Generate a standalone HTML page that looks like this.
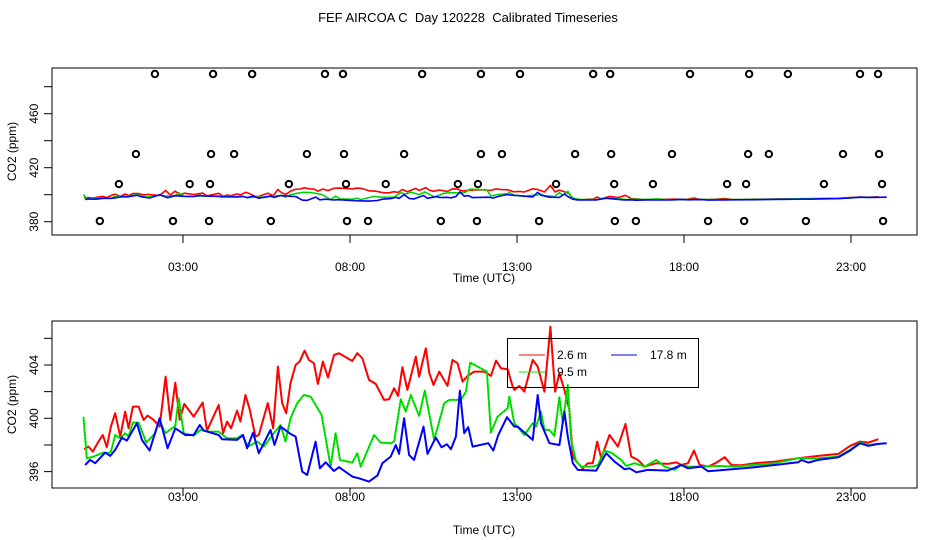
<!DOCTYPE html>
<html><head><meta charset="utf-8"><style>
html,body{margin:0;padding:0;background:#fff;}
svg{display:block;font-family:"Liberation Sans",sans-serif;}
</style></head><body>
<svg id="chart" width="936" height="540" viewBox="0 0 936 540" xmlns="http://www.w3.org/2000/svg">
<rect x="0" y="0" width="936" height="540" fill="#fff"/>
<text x="468" y="22" font-size="13" text-anchor="middle" style="white-space:pre" xml:space="preserve">FEF AIRCOA C  Day 120228  Calibrated Timeseries</text>
<g id="top"></g>
<g id="bot"></g>
</svg>
<script>
// ---- data ----
const xTicks = [3, 8, 13, 18, 23];
const xTickLabels = ["03:00", "08:00", "13:00", "18:00", "23:00"];
const topYTicks = [380, 400, 420, 440, 460, 480];
const topYLabels = ["380", "", "420", "", "460", ""];
const botYTicks = [396, 398, 400, 402, 404, 406];
const botYLabels = ["396", "", "400", "", "404", ""];

const redT = [0.04,0.17,0.30,0.44,0.60,0.72,0.84,0.97,1.12,1.27,1.37,1.50,1.67,1.82,1.94,2.12,2.30,2.48,2.62,2.77,2.90,3.04,3.32,3.59,3.72,4.07,4.20,4.32,4.44,4.62,4.72,4.87,5.00,5.17,5.27,5.54,5.70,5.84,5.97,6.09,6.22,6.37,6.49,6.64,6.77,6.92,7.04,7.19,7.34,7.52,7.67,8.07,8.22,8.37,8.57,8.77,9.02,9.17,9.32,9.44,9.57,9.72,9.97,10.07,10.27,10.37,10.50,10.67,10.92,11.07,11.22,11.37,11.52,11.72,12.02,12.22,12.37,12.52,12.72,12.87,12.92,13.07,13.22,13.47,13.62,13.82,14.00,14.14,14.27,14.42,14.57,14.67,14.82,14.97,15.12,15.27,15.40,15.52,15.77,16.02,16.25,16.42,16.62,16.82,17.17,17.52,17.77,17.92,18.12,18.30,18.47,18.72,18.97,19.22,19.42,19.72,20.12,20.72,21.42,22.02,22.62,22.97,23.27,23.52,23.82];
const redV = [397.68,397.88,397.5,398.13,398.75,397.83,399.38,400.38,398.63,400.5,399.25,400.88,400.88,399.88,400.2,399.88,399.38,403.13,399.88,402.68,399.88,401.08,400.13,401.18,399.08,401.0,398.88,399.75,399.25,400.58,399.75,401.75,400.63,398.63,398.75,401.13,399.25,403.88,401.13,400.38,402.63,404.0,404.25,405.08,404.38,404.13,402.58,404.25,403.05,404.75,404.88,404.3,404.88,404.5,402.88,402.58,401.38,401.43,402.25,401.68,403.83,402.13,404.63,403.13,405.25,403.43,402.5,403.5,402.43,404.38,404.13,402.75,403.18,403.5,403.5,403.18,404.33,403.75,403.68,402.38,402.13,402.43,402.0,404.38,403.88,402.0,406.88,402.0,403.38,402.13,400.63,397.13,396.63,396.25,396.63,396.63,398.25,397.0,398.75,397.88,399.58,397.13,396.88,396.38,396.63,396.58,396.7,396.5,396.63,397.58,396.5,396.38,396.68,397.08,396.5,396.48,396.63,396.75,397.0,397.18,397.33,397.93,398.25,398.18,398.43];

const greenT = [0.02,0.12,0.32,0.62,0.77,0.84,0.97,1.12,1.27,1.37,1.50,1.67,1.90,2.17,2.29,2.47,2.77,2.87,3.02,3.32,3.52,3.77,4.07,4.32,4.62,4.77,4.95,5.22,5.42,5.72,5.92,6.07,6.22,6.42,6.62,6.82,6.97,7.15,7.42,7.57,7.70,8.07,8.22,8.32,8.72,8.92,9.22,9.32,9.52,9.67,9.82,10.07,10.24,10.52,10.82,10.97,11.32,11.47,11.60,12.10,12.22,12.42,12.72,12.77,12.92,13.22,13.47,13.57,13.72,13.82,13.97,14.12,14.27,14.37,14.52,14.62,14.77,14.92,15.27,15.42,15.62,15.82,16.12,16.27,16.52,16.82,17.17,17.42,17.72,17.92,18.12,18.52,18.92,19.52,20.12,20.72,21.42,22.02,22.62,22.97,23.27,23.52,23.77];
const greenV = [400.08,397.0,397.13,397.43,397.38,397.5,398.75,398.5,398.88,398.63,399.68,399.68,398.18,398.88,399.88,398.88,399.43,401.5,398.88,398.7,399.13,399.0,399.0,398.5,398.5,398.75,397.88,398.25,397.88,398.88,399.5,398.25,400.0,401.13,401.75,401.63,401.0,400.25,396.38,398.88,396.88,396.68,397.38,396.38,398.75,398.18,398.13,398.25,401.43,400.5,401.75,400.18,402.08,398.38,401.13,401.38,401.38,402.0,404.18,403.5,398.93,400.13,400.75,401.63,399.63,398.75,399.63,399.38,400.5,399.13,399.13,398.68,401.58,399.63,402.5,398.38,396.75,396.38,396.38,396.5,397.58,397.43,396.88,396.43,396.63,396.38,396.88,396.38,396.13,396.5,396.38,396.38,396.43,396.38,396.5,396.63,397.0,397.0,397.13,397.63,398.18,398.0,398.08];

const blueT = [0.07,0.22,0.37,0.67,0.82,0.97,1.17,1.32,1.62,1.77,2.00,2.30,2.54,2.77,3.07,3.32,3.50,3.62,4.07,4.17,4.62,4.80,4.92,5.10,5.27,5.62,5.74,5.92,6.22,6.37,6.57,6.72,6.97,7.10,7.27,7.52,7.67,8.07,8.27,8.57,8.82,8.97,9.22,9.37,9.47,9.62,9.77,9.92,10.20,10.32,10.57,10.74,10.90,11.02,11.17,11.29,11.42,11.54,11.67,12.14,12.29,12.44,12.70,12.92,13.02,13.47,13.62,13.72,13.97,14.27,14.42,14.52,14.67,14.82,15.37,15.67,15.92,16.22,16.37,16.57,16.92,17.52,17.92,18.12,18.52,18.72,19.52,20.12,20.72,21.42,21.52,21.72,22.02,22.62,22.97,23.27,23.52,23.82,24.07];
const blueV = [396.5,396.88,396.63,397.43,397.18,397.63,398.55,398.33,399.63,398.38,397.58,400.0,397.75,399.25,398.75,398.75,399.5,399.08,398.75,398.43,398.38,398.75,397.75,398.93,397.38,399.13,398.0,399.38,398.83,398.63,396.0,395.75,398.25,396.25,396.7,396.05,396.33,395.63,395.5,395.25,395.7,396.63,397.13,398.0,397.33,400.0,397.25,396.88,399.38,397.33,398.55,397.83,398.05,397.68,398.63,402.08,398.88,399.33,397.88,398.13,397.58,398.75,400.08,399.38,399.38,398.38,401.75,399.63,398.13,398.0,400.5,398.63,396.63,396.13,396.08,397.38,396.75,396.18,396.25,395.95,396.13,396.08,396.5,396.25,396.38,396.03,396.2,396.33,396.5,396.7,396.88,396.68,396.88,397.08,397.58,398.13,397.93,398.08,398.13];

const flagT = [2.16,3.90,5.07,7.25,7.79,10.16,11.92,13.09,15.28,15.79,18.18,19.95,21.11,23.27,23.81,
 1.59,3.84,4.53,6.71,7.82,9.62,11.92,12.55,14.74,15.82,17.64,19.92,20.54,22.76,23.84,
 1.08,3.20,3.81,6.17,7.88,9.07,11.23,11.83,14.17,15.91,17.07,19.29,19.86,22.19,23.93,
 0.51,2.70,3.78,5.63,7.91,8.54,10.72,11.80,13.66,15.93,16.56,18.72,19.80,21.65,23.96];
const flagV = [489.4,489.4,489.4,489.4,489.4,489.4,489.4,489.4,489.4,489.4,489.4,489.4,489.4,489.4,489.4,
 430.1,430.1,430.1,430.1,430.1,430.1,430.1,430.1,430.1,430.1,430.1,430.1,430.1,430.1,430.1,
 407.9,407.9,407.9,407.9,407.9,407.9,407.9,407.9,407.9,407.9,407.9,407.9,407.9,407.9,407.9,
 380.5,380.5,380.5,380.5,380.5,380.5,380.5,380.5,380.5,380.5,380.5,380.5,380.5,380.5,380.5];

// ---- drawing ----
const NS = "http://www.w3.org/2000/svg";
function mk(tag, attrs, parent) {
  const e = document.createElementNS(NS, tag);
  for (const k in attrs) e.setAttribute(k, attrs[k]);
  parent.appendChild(e);
  return e;
}
const X0 = 82.8, PXH = 33.4;
function xs(t) { return X0 + t * PXH; }

function panel(g, yRef, yRefPx, pxPerUnit, yTicks, yLabels, boxTop, boxBot, xLabelY, titleY, withFlags, withLegend, lw) {
  const ys = v => yRefPx - (v - yRef) * pxPerUnit;
  const clipId = "clip" + boxTop;
  const cp = mk("clipPath", {id: clipId}, g);
  mk("rect", {x: 52, y: boxTop, width: 865, height: boxBot - boxTop}, cp);
  const box = mk("rect", {x: 52, y: boxTop, width: 865, height: boxBot - boxTop, fill: "none", stroke: "#000", "stroke-width": 1}, g);
  
  
  xTicks.forEach((t, i) => {
    const tk = mk("line", {x1: xs(t), x2: xs(t), y1: boxBot, y2: boxBot + 8, stroke: "#000"}, g);
    
    
    const lb = mk("text", {x: xs(t), y: xLabelY, "font-size": 12, "text-anchor": "middle"}, g);
    lb.textContent = xTickLabels[i];
    
    
  });
  const xt = mk("text", {x: 484, y: titleY, "font-size": 12, "text-anchor": "middle"}, g);
  xt.textContent = "Time (UTC)";
  
  
  yTicks.forEach((v, i) => {
    const y = ys(v);
    const tk = mk("line", {x1: 44, x2: 52, y1: y, y2: y, stroke: "#000"}, g);
    
    
    if (yLabels[i]) {
      const lb = mk("text", {x: 0, y: 0, "font-size": 12, "text-anchor": "middle", transform: "translate(38," + y + ") rotate(-90)"}, g);
      lb.textContent = yLabels[i];
      
      
    }
  });
  const yt = mk("text", {x: 0, y: 0, "font-size": 12, "text-anchor": "middle", transform: "translate(16," + ((boxTop + boxBot) / 2) + ") rotate(-90)"}, g);
  yt.textContent = "CO2 (ppm)";
  
  

  const cg = mk("g", {"clip-path": "url(#" + clipId + ")"}, g);
  function line(T, V, color, name, dotted) {
    const d = T.map((t, i) => (i ? "L" : "M") + xs(t).toFixed(1) + "," + ys(V[i]).toFixed(1)).join("");
    const p = mk("path", {d: d, fill: "none", stroke: color, "stroke-width": lw, "stroke-linejoin": "round"}, cg);
    
    
    if (dotted) {
      const q = mk("path", {d: d, fill: "none", stroke: "#000", "stroke-width": 0.6, "stroke-dasharray": "1 2", opacity: 0.6}, cg);
      
      
    }
  }
  line(redT, redV, "#ff0000", "series-2-6m", false);
  line(greenT, greenV, "#00ee00", "series-9-5m", true);
  line(blueT, blueV, "#0000ff", "series-17-8m", false);

  if (withFlags) {
    flagT.forEach((t, i) => {
      const c = mk("circle", {cx: xs(t), cy: ys(flagV[i]), r: 3.2, fill: "none", stroke: "#000", "stroke-width": 2}, cg);
      
      
    });
  }
  if (withLegend) {
    const lg = mk("g", {}, g);
    
    
    mk("rect", {x: 507.5, y: 338.5, width: 191, height: 49, fill: "none", stroke: "#000"}, lg);
    const entries = [["2.6 m", "#ff0000", 519, 355, 557], ["17.8 m", "#0000ff", 611, 355, 650], ["9.5 m", "#00ee00", 519, 372, 557]];
    entries.forEach(e => {
      const ln = mk("line", {x1: e[2], x2: e[2] + 26, y1: e[3], y2: e[3], stroke: e[1], "stroke-width": 1}, lg);
      
      
      const tx = mk("text", {x: e[4], y: e[3] + 4, "font-size": 12}, lg);
      tx.textContent = e[0];
      
      
    });
  }
}
panel(document.getElementById("top"), 380, 221.7, 1.35, topYTicks, topYLabels, 68, 235, 271, 282, true, false, 1.6);
panel(document.getElementById("bot"), 400, 418.3, 13.33, botYTicks, botYLabels, 321, 488, 501, 534, false, true, 2);
</script>
</body></html>
